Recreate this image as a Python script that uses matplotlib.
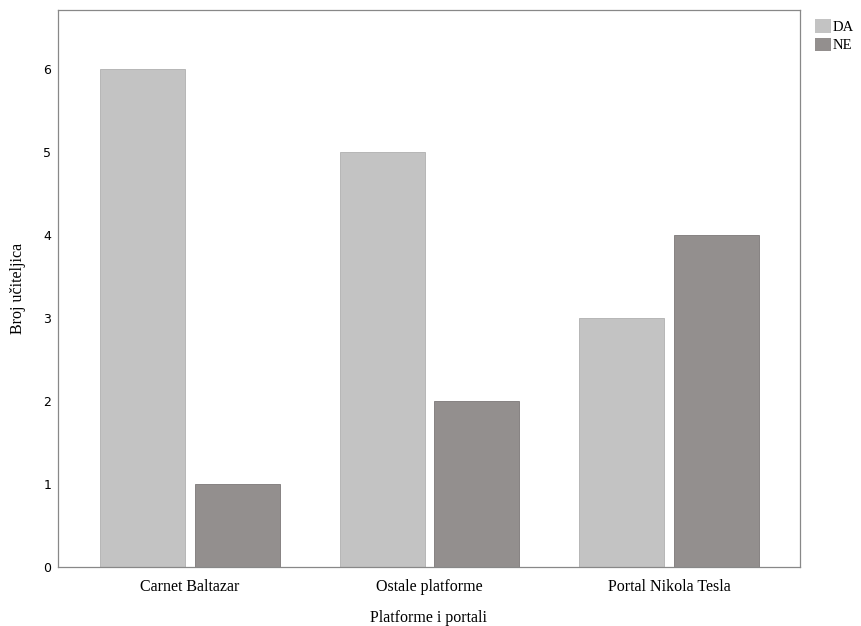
import numpy as np
import matplotlib.pyplot as plt
from matplotlib.patches import Patch

categories = ["Carnet Baltazar", "Ostale platforme", "Portal Nikola Tesla"]
da_values = [6, 5, 3]
ne_values = [1, 2, 4]
series_names = ["DA", "NE"]
colors = ["#c3c3c3", "#938f8e"]

fig = plt.figure(figsize=(8.61, 6.26), dpi=100)
ax = fig.add_axes([58 / 861, 59 / 626, 742 / 861, 557 / 626])

x = np.arange(len(categories))
w = 0.355
off = 0.198
ax.bar(x - off, da_values, w, color=colors[0], edgecolor="#b0b0b0", linewidth=0.6)
ax.bar(x + off, ne_values, w, color=colors[1], edgecolor="#7c7878", linewidth=0.6)

ax.set_xlim(-0.551, 2.547)
ax.set_ylim(0, 6.71)
ax.set_xticks(x)
ax.set_xticklabels(categories, family="Liberation Serif", fontsize=11.5, va="baseline")
ax.set_yticks(range(7))
ax.tick_params(axis="y", labelsize=9, length=0, pad=5)
ax.tick_params(axis="x", length=0, pad=17)
for s in ax.spines.values():
    s.set_color("#888888")
    s.set_linewidth(0.9)

fig.text(429 / 861, 1 - 622 / 626, "Platforme i portali", family="Liberation Serif",
         fontsize=11.5, ha="center", va="baseline")
fig.text(18 / 861, 1 - 288 / 626, "Broj učiteljica", family="Liberation Serif",
         fontsize=11.5, ha="center", va="center", rotation=90)

handles = [Patch(facecolor=c, edgecolor="none") for c in colors]
fig.legend(handles, series_names, loc="upper left", bbox_to_anchor=(808 / 861, 1 - 12 / 626),
           frameon=False, prop={"family": "Liberation Serif", "size": 10.5},
           handlelength=1.05, handleheight=1.05, handletextpad=0.15, labelspacing=0.25, borderpad=0)

fig.savefig("out.png", dpi=100)
